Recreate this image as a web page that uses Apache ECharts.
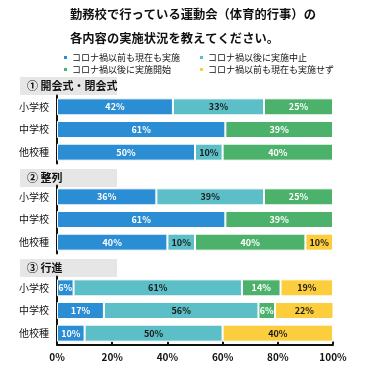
<!DOCTYPE html>
<html><head><meta charset="utf-8">
<script src="https://cdn.jsdelivr.net/npm/echarts@6/dist/echarts.min.js"></script>
<style>html,body{margin:0;padding:0;background:#fff}#c{width:370px;height:370px}</style>
</head><body><div id="c"></div>
<script>
const titleLines = ['勤務校で行っている運動会（体育的行事）の', '各内容の実施状況を教えてください。'];
const seriesNames = ['コロナ禍以前も現在も実施', 'コロナ禍以後に実施中止', 'コロナ禍以後に実施開始', 'コロナ禍以前も現在も実施せず'];
const categories = ['小学校', '中学校', '他校種'];
const sectionTitles = ['① 開会式・閉会式', '② 整列', '③ 行進'];
const xTickLabels = ['0%', '20%', '40%', '60%', '80%', '100%'];
// values per section: [series][category]
const sec1 = [[42, 61, 50], [33, 0, 10], [25, 39, 40], [0, 0, 0]];
const sec2 = [[36, 61, 40], [39, 0, 10], [25, 39, 40], [0, 0, 10]];
const sec3 = [[6, 17, 10], [61, 56, 50], [14, 6, 0], [19, 22, 40]];
const sections = [sec1, sec2, sec3];

const colors = ['#2b8dd3', '#5cbec6', '#4bb16b', '#fccd3c'];
const labelColors = ['#ffffff', '#1a1a1a', '#ffffff', '#1a1a1a'];
const FONT = '"Noto Sans CJK JP", "Noto Sans", sans-serif';

const grids = [
  {left: 57, width: 276, top: 95.5, height: 68},
  {left: 57, width: 276, top: 185.5, height: 68},
  {left: 57, width: 276, top: 276.5, height: 68}
];
const boxTops = [77, 169, 259];

const chart = echarts.init(document.getElementById('c'));
const xAxes = [], yAxes = [], series = [];
grids.forEach((g, gi) => {
  const last = gi === 2;
  xAxes.push({
    gridIndex: gi, type: 'value', min: 0, max: 100, interval: 20,
    axisLine: {show: last, onZero: false, lineStyle: {color: '#111', width: 2}},
    axisTick: {show: last, inside: true, length: 3, lineStyle: {color: '#111', width: 2}},
    axisLabel: {show: last, margin: 8, fontSize: 10, fontWeight: 'bold', color: '#111', fontFamily: FONT,
      formatter: v => xTickLabels[v / 20]},
    splitLine: {show: false}
  });
  yAxes.push({
    gridIndex: gi, type: 'category', data: categories, inverse: true,
    axisLine: {show: true, lineStyle: {color: '#111', width: 2}},
    axisTick: {show: false},
    axisLabel: {margin: 8, fontSize: 10, color: '#111', fontFamily: FONT}
  });
  sections[gi].forEach((vals, si) => {
    series.push({
      name: seriesNames[si], type: 'bar', stack: 's' + gi,
      xAxisIndex: gi, yAxisIndex: gi, barWidth: 17,
      data: vals.map(v => v === 0 ? '-' : v),
      itemStyle: {color: colors[si], borderColor: '#fff', borderWidth: 1},
      label: {show: true, position: 'inside', formatter: p => p.value + '%',
        fontSize: 9, fontWeight: 'bold', color: labelColors[si], fontFamily: FONT},
      emphasis: {disabled: true}
    });
  });
});

const graphics = [];
titleLines.forEach((t, i) => graphics.push({
  type: 'text', left: 70, top: 8 + i * 24,
  style: {text: t, font: 'bold 12.3px ' + FONT, fill: '#111'}
}));
boxTops.forEach((y, i) => {
  graphics.push({type: 'rect', shape: {x: 20, y: y, width: 97, height: 18}, style: {fill: '#e6e6e6'}});
  graphics.push({type: 'text', x: 27, y: y + 9, style: {text: sectionTitles[i], font: 'bold 11px ' + FONT, fill: '#111', verticalAlign: 'middle'}});
});

const legendCommon = {orient: 'vertical', icon: 'rect', itemWidth: 5, itemHeight: 5, itemGap: 3,
  textStyle: {fontSize: 9, color: '#111', fontFamily: FONT, padding: [0, 0, 0, -1]}, selectedMode: false};

chart.setOption({
  animation: false,
  color: colors,
  grid: grids,
  xAxis: xAxes,
  yAxis: yAxes,
  series: series,
  legend: [
    Object.assign({left: 57, top: 48, data: [seriesNames[0], seriesNames[2]]}, legendCommon),
    Object.assign({left: 193, top: 48, data: [seriesNames[1], seriesNames[3]]}, legendCommon)
  ],
  graphic: graphics
});
</script></body></html>
